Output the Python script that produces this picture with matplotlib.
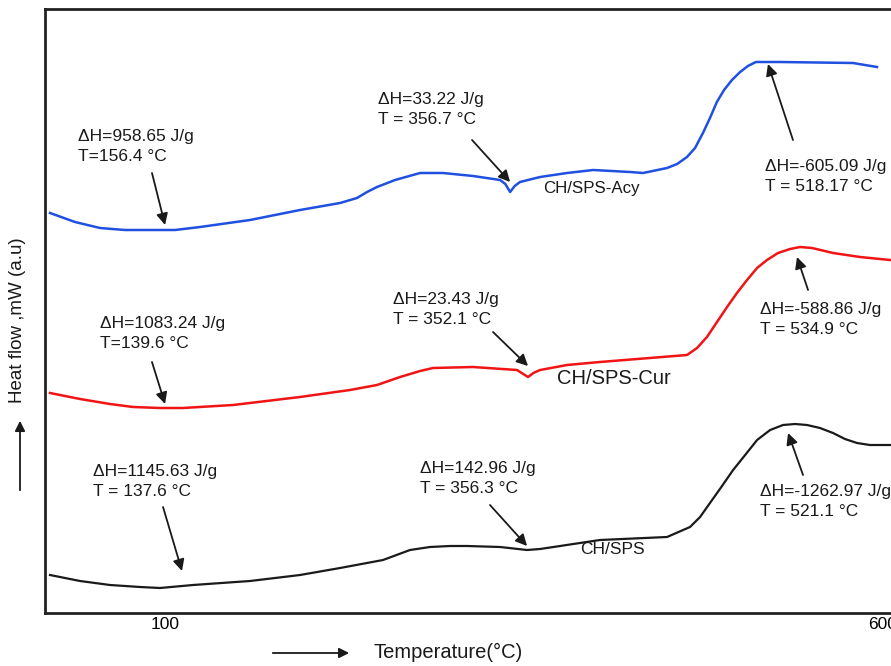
import matplotlib
matplotlib.use("Agg")
import matplotlib.pyplot as plt

plt.rcParams['font.family'] = ['Liberation Sans', 'DejaVu Sans']

# ---- data (temperature in °C, heat flow in arbitrary units) ----
acy_T = [19.9, 37.3, 54.7, 72.1, 89.6, 107.0, 124.4, 159.2, 194.0, 221.9, 233.7, 240.7,
         247.6, 260.2, 277.6, 293.6, 314.5, 333.3, 337.0, 340.3, 343.5, 347.2, 361.2, 380.0,
         398.1, 423.8, 432.9, 449.6, 456.6, 463.5, 469.1, 474.6, 479.5, 484.3, 489.3, 494.8,
         500.5, 505.9, 511.5, 517.8, 528.3, 579.1, 595.8]
acy_H = [400, 391, 385, 383, 383, 383, 386, 393, 403, 410, 415, 421,
         426, 433, 440, 440, 437, 433, 429, 421, 427, 431, 436, 440,
         443, 441, 440, 445, 449, 456, 465, 480, 495, 511, 523, 533,
         541, 547, 551, 551, 551, 550, 546]

cur_T = [19.9, 40.8, 61.7, 77.7, 96.5, 112.5, 147.4, 194.0, 228.8, 247.6, 263.7, 277.6,
         286.6, 314.5, 345.1, 349.5, 352.8, 356.5, 361.2, 380.0, 402.9, 463.5, 470.5, 477.4,
         484.4, 491.4, 498.3, 505.3, 512.3, 519.2, 526.9, 535.3, 542.2, 550.6, 565.2, 584.0,
         604.9]
cur_H = [220, 214, 209, 206, 205, 205, 208, 216, 223, 228, 236, 242,
         245, 246, 243, 239, 236, 240, 243, 248, 251, 258, 265, 276,
         291, 306, 320, 333, 345, 353, 360, 364, 366, 365, 360, 356,
         353]

ch_T = [19.9, 40.8, 61.7, 82.6, 96.5, 119.5, 159.2, 194.0, 221.9, 251.8, 270.6, 284.5,
        298.5, 310.3, 333.3, 352.1, 361.2, 389.0, 402.9, 449.6, 465.6, 472.6, 479.5, 487.9,
        495.6, 504.0, 512.3, 521.4, 530.4, 538.8, 547.1, 556.1, 565.2, 573.5, 581.9, 590.9,
        604.9]
ch_H = [38, 32, 28, 26, 25, 28, 32, 38, 45, 53, 63, 66,
        67, 67, 66, 63, 64, 70, 73, 76, 86, 96, 110, 127,
        143, 158, 173, 183, 188, 189, 188, 185, 180, 174, 170, 168,
        168]

series_labels = ["CH/SPS-Acy", "CH/SPS-Cur", "CH/SPS"]
x_ticks = [100, 600]
x_ticklabels = ["100", "600"]

# annotations: text, text position (top-left), arrow tail, arrow head
notes = [
    ("\u0394H=958.65 J/g\nT=156.4 \u00b0C", (39.4, 484), (90.9, 440), (100.0, 388)),
    ("\u0394H=33.22 J/g\nT = 356.7 \u00b0C", (248.3, 521), (313.8, 473), (340.3, 431)),
    ("\u0394H=-605.09 J/g\nT = 518.17 \u00b0C", (517.8, 454), (537.3, 473), (519.9, 549)),
    ("\u0394H=1083.24 J/g\nT=139.6 \u00b0C", (54.7, 297), (90.9, 251), (100.0, 209)),
    ("\u0394H=23.43 J/g\nT = 352.1 \u00b0C", (258.8, 321), (328.4, 281), (352.8, 247)),
    ("\u0394H=-588.86 J/g\nT = 534.9 \u00b0C", (514.4, 311), (547.8, 323), (540.1, 356)),
    ("\u0394H=1145.63 J/g\nT = 137.6 \u00b0C", (49.9, 149), (98.6, 106), (111.8, 42)),
    ("\u0394H=142.96 J/g\nT = 356.3 \u00b0C", (277.6, 152), (326.3, 108), (352.1, 67)),
    ("\u0394H=-1262.97 J/g\nT = 521.1 \u00b0C", (514.4, 129), (544.3, 138), (533.9, 180)),
]

W, H = 891, 666
fig = plt.figure(figsize=(W / 100, H / 100), dpi=100)
ax = fig.add_axes([45 / W, 1 - 613 / H, 865 / W, 604 / H])

ax.plot(acy_T, acy_H, color='#1f50e0', lw=1.8)
ax.plot(cur_T, cur_H, color='#f01414', lw=1.8)
ax.plot(ch_T, ch_H, color='#1a1a1a', lw=1.6)

ax.set_xlim(16.4, 618.8)
ax.set_ylim(0, 604)
ax.set_xticks(x_ticks)
ax.set_xticklabels(x_ticklabels, fontsize=12.5)
ax.set_yticks([])
ax.tick_params(axis='x', length=0, pad=3)
for s in ['left', 'bottom', 'top']:
    ax.spines[s].set_linewidth(2)
    ax.spines[s].set_color('#222222')
ax.spines['right'].set_visible(False)

for txt, tpos, tail, head in notes:
    ax.text(tpos[0], tpos[1], txt, ha='left', va='top', fontsize=12.5,
            linespacing=1.4, color='#1a1a1a')
    ax.annotate('', xy=head, xytext=tail,
                arrowprops=dict(arrowstyle='-|>', color='#1a1a1a', lw=1.3,
                                mutation_scale=17, shrinkA=0, shrinkB=0))

ax.text(363.2, 425, series_labels[0], ha='left', va='center', fontsize=12.2, color='#1a1a1a')
ax.text(373.0, 235, series_labels[1], ha='left', va='center', fontsize=14.5, color='#1a1a1a')
ax.text(389.0, 63, series_labels[2], ha='left', va='center', fontsize=12.5, color='#1a1a1a')

# axis titles with arrows
fig.text(18 / W, 1 - 320 / H, "Heat flow ,mW (a.u)", rotation=90, ha='center', va='center',
         fontsize=13.5, color='#1a1a1a')
fig.add_artist(matplotlib.patches.FancyArrowPatch(
    (20 / W, 1 - 493 / H), (20 / W, 1 - 418 / H), transform=fig.transFigure,
    arrowstyle='-|>', mutation_scale=15, lw=1.3, color='#1a1a1a'))
fig.text(448 / W, 1 - 652 / H, "Temperature(\u00b0C)", ha='center', va='center',
         fontsize=14.5, color='#1a1a1a')
fig.add_artist(matplotlib.patches.FancyArrowPatch(
    (270 / W, 1 - 653 / H), (352 / W, 1 - 653 / H), transform=fig.transFigure,
    arrowstyle='-|>', mutation_scale=15, lw=1.3, color='#1a1a1a'))

fig.savefig("out.png", dpi=100)
